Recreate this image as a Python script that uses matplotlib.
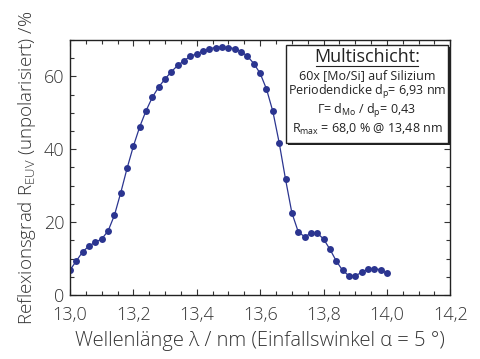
import numpy as np
import matplotlib
matplotlib.use('Agg')
import matplotlib.pyplot as plt
from matplotlib.ticker import MultipleLocator, FuncFormatter
from matplotlib.patches import Rectangle

plt.rcParams['font.family'] = ['Open Sans', 'DejaVu Sans']
plt.rcParams['font.weight'] = 'light'
plt.rcParams['mathtext.fontset'] = 'custom'
plt.rcParams['mathtext.rm'] = 'Open Sans'

# Wavelength in nm (0.02 nm steps) and reflectivity in %
wavelength = [13.00, 13.02, 13.04, 13.06, 13.08, 13.10, 13.12, 13.14, 13.16, 13.18,
              13.20, 13.22, 13.24, 13.26, 13.28, 13.30, 13.32, 13.34, 13.36, 13.38,
              13.40, 13.42, 13.44, 13.46, 13.48, 13.50, 13.52, 13.54, 13.56, 13.58,
              13.60, 13.62, 13.64, 13.66, 13.68, 13.70, 13.72, 13.74, 13.76, 13.78,
              13.80, 13.82, 13.84, 13.86, 13.88, 13.90, 13.92, 13.94, 13.96, 13.98,
              14.00]
reflectivity = [6.9, 9.4, 11.9, 13.5, 14.5, 15.4, 17.6, 21.9, 28.1, 34.8,
                40.9, 46.2, 50.6, 54.3, 57.1, 59.3, 61.3, 63.0, 64.3, 65.5,
                66.2, 66.9, 67.6, 67.9, 68.0, 67.9, 67.6, 66.8, 65.5, 63.5,
                60.8, 56.5, 50.4, 41.8, 31.8, 22.6, 17.4, 16.0, 16.9, 17.0,
                15.4, 12.6, 9.4, 6.8, 5.3, 5.3, 6.2, 7.1, 7.2, 7.0,
                6.0]

info_lines = [
    '60x [Mo/Si] auf Silizium',
    r'Periodendicke d$_\mathregular{p}$= 6,93 nm',
    r'Γ= d$_\mathregular{Mo}$ / d$_\mathregular{p}$= 0,43',
    r'R$_\mathregular{max}$ = 68,0 % @ 13,48 nm',
]

fig = plt.figure(figsize=(4.8, 3.59), dpi=100)
ax = fig.add_axes([0.146, 0.178, 0.792, 0.711])

color = '#2b3590'
ax.plot(wavelength, reflectivity, '-', color=color, lw=0.9)
ax.plot(wavelength, reflectivity, 'o', color=color, ms=5, mec='none')

ax.set_xlim(13.0, 14.2)
ax.set_ylim(0, 70)
ax.xaxis.set_major_locator(MultipleLocator(0.2))
ax.xaxis.set_minor_locator(MultipleLocator(0.05))
ax.yaxis.set_major_locator(MultipleLocator(20))
ax.yaxis.set_minor_locator(MultipleLocator(5))
ax.xaxis.set_major_formatter(FuncFormatter(lambda v, p: f'{v:.1f}'.replace('.', ',')))
ax.tick_params(which='both', direction='in', top=True, right=True, labelsize=13,
               colors='#333333', width=0.8)
ax.tick_params(axis='x', which='major', pad=8)
ax.tick_params(axis='y', which='major', pad=4)
ax.tick_params(which='major', length=4)
ax.tick_params(which='minor', length=3)
for s in ax.spines.values():
    s.set_linewidth(1.0)
    s.set_color('#222222')

ax.set_xlabel('Wellenlänge λ / nm (Einfallswinkel α = 5 °)', fontsize=14.5,
              fontweight='light', color='#333333', labelpad=5)
ax.set_ylabel(r'Reflexionsgrad R$_\mathregular{EUV}$ (unpolarisiert) /%', fontsize=13.5,
              fontweight='light', color='#333333', labelpad=4)

# info box with shadow
x0, y0, w, h = 13.682, 41.8, 0.51, 26.9
ax.add_patch(Rectangle((x0 + 0.006, y0 - 0.6), w, h, facecolor='#222222', edgecolor='none',
                       zorder=4, clip_on=False))
ax.add_patch(Rectangle((x0, y0), w, h, facecolor='white', edgecolor='#222222', lw=1.0,
                       zorder=5, clip_on=False))
xc = x0 + w / 2
ax.text(xc, 65.2, 'Multischicht:', fontsize=13, fontweight='normal', ha='center',
        va='center', zorder=6, color='#222222')
ax.plot([xc - 0.16, xc + 0.16], [62.7, 62.7], color='#222222', lw=0.8, zorder=6)
ys = [60.3, 55.6, 50.6, 45.3]
for yy, t in zip(ys, info_lines):
    ax.text(xc, yy, t, fontsize=9, fontweight='normal', ha='center', va='center',
            zorder=6, color='#222222')

fig.savefig('out.png', dpi=100)
